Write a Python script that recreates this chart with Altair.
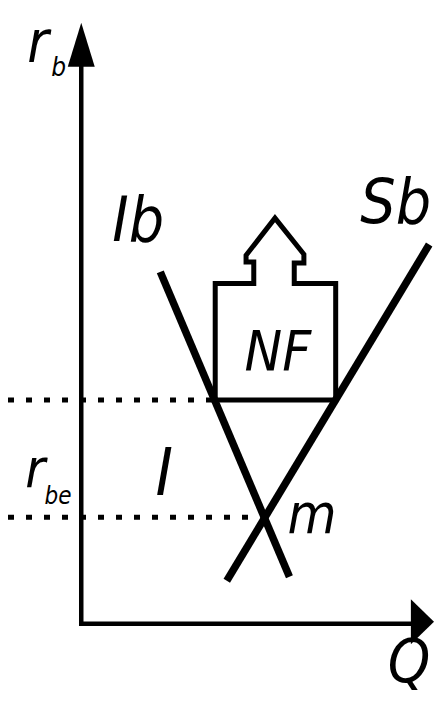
import altair as alt
import pandas as pd

# Diagram frame (units of the reference drawing; y grows downward)
X_DOMAIN = [0, 442]
Y_DOMAIN = [0, 706]

# Axes polyline: top of r_b axis -> origin -> end of Q axis
axes_x = [76, 76, 425]
axes_y = [55, 630, 630]

# Arrowheads
yarrow_y = [60, 15]
yarrow_x = [62, 76]
yarrow_x2 = [90, 76]
xarrow_x = [418, 442]
xarrow_y = [605, 628]
xarrow_y2 = [651, 628]

# Curves Ib and Sb (end points)
ib_x = [158, 292]
ib_y = [270, 582]
sb_x = [227, 437]
sb_y = [586, 242]

# Dotted reference levels
dot_levels = [401, 521]
dot_ends = [214, 262]

# NF box with upward arrow (outline)
nf_x = [215, 215, 255, 255, 247, 247, 277, 307, 307, 297, 297, 340, 340, 215]
nf_y = [401, 282, 282, 260, 260, 253, 215, 252, 261, 261, 282, 282, 401, 401]

FONT = "Liberation Sans Narrow, DejaVu Sans Condensed, Liberation Sans, sans-serif"

xs = alt.Scale(domain=X_DOMAIN, nice=False, zero=False)
ys = alt.Scale(domain=Y_DOMAIN, reverse=True, nice=False, zero=False)


def X(f="x"):
    return alt.X(f"{f}:Q", scale=xs, axis=None)


def Y(f="y"):
    return alt.Y(f"{f}:Q", scale=ys, axis=None)


def poly(xv, yv, width, **kw):
    df = pd.DataFrame({"x": xv, "y": yv, "o": list(range(len(xv)))})
    return alt.Chart(df).mark_line(
        color="black", strokeWidth=width, strokeJoin="miter", strokeCap="butt", **kw
    ).encode(x=X(), y=Y(), order="o:Q")


axes = poly(axes_x, axes_y, 4.5)
ib = poly(ib_x, ib_y, 7.5)
sb = poly(sb_x, sb_y, 7.5)
nf = poly(nf_x, nf_y, 5)

dots = []
for lvl, end in zip(dot_levels, dot_ends):
    dots.append(poly([0, end], [lvl, lvl], 5, strokeDash=[6, 12]))

yarrow = alt.Chart(pd.DataFrame({"y": yarrow_y, "x": yarrow_x, "x2": yarrow_x2})).mark_area(
    color="black", orient="horizontal"
).encode(y=Y(), x=X(), x2="x2:Q")

xarrow = alt.Chart(pd.DataFrame({"x": xarrow_x, "y": xarrow_y, "y2": xarrow_y2})).mark_area(
    color="black", orient="vertical"
).encode(x=X(), y=Y(), y2="y2:Q")


def label(text, x, y, size, align="left"):
    df = pd.DataFrame({"t": [text], "x": [x], "y": [y]})
    return alt.Chart(df).mark_text(
        font=FONT, fontStyle="italic", fontSize=size, align=align,
        baseline="alphabetic", color="black",
    ).encode(x=X(), y=Y(), text="t:N")


labels = [
    label("r", 20, 55, 58),
    label("b", 45, 70, 26),
    label("r", 18, 490, 54),
    label("be", 38, 507, 24),
    label("I", 162, 498, 66, "center"),
    label("m", 290, 537, 56),
    label("Q", 416, 690, 60, "center"),
    label("Ib", 135, 238, 62, "center"),
    label("Sb", 439, 220, 62, "right"),
    label("NF", 280, 370, 56, "center"),
]

chart = alt.layer(axes, yarrow, xarrow, *dots, ib, sb, nf, *labels).properties(
    width=426, height=690, autosize="none", padding=0, background="white"
).configure_view(stroke=None)

chart.save("out.html", embed_options={"renderer": "svg", "actions": False})
